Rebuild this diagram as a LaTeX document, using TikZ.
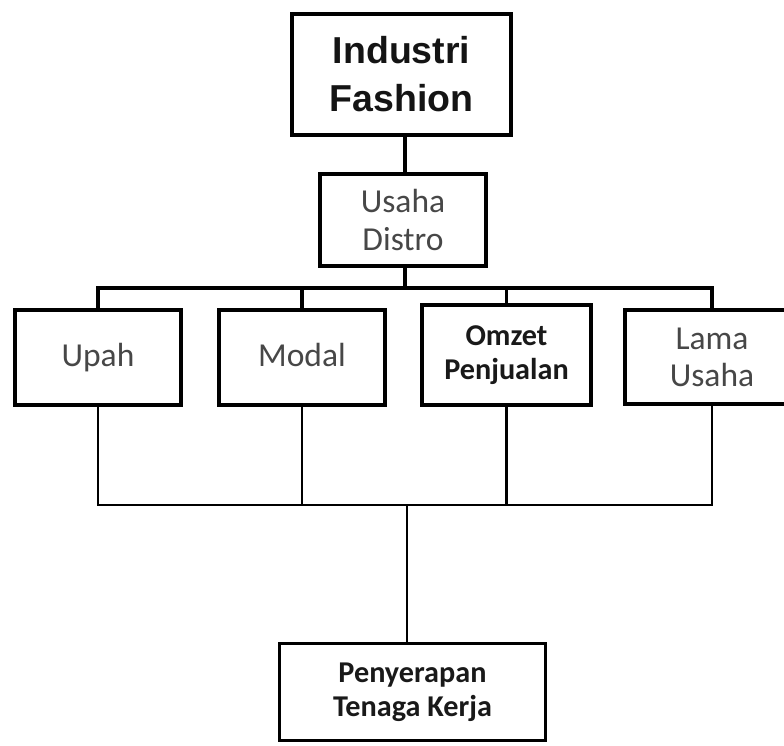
\documentclass[tikz,border=0pt]{standalone}
\usepackage{fontspec}
\setmainfont{Carlito}
\newfontfamily\headfont{Liberation Sans}
\tikzset{
  % One pixel of the reference picture.
  globals/px/.initial=0.03cm,
%
  % Size of a box, given in pixels.
  box size/.style 2 args={
    minimum width={#1*\pgfkeysvalueof{/tikz/globals/px}},
    minimum height={#2*\pgfkeysvalueof{/tikz/globals/px}}},
%
  % For all boxes.
  box/.style={
    draw,
    line width=3.4pt,
    inner sep=0pt,
    align=center,
    text=black!72,
    font={\fontsize{28.6pt}{32pt}\selectfont}},
%
  % For boxes with one line of text: same baseline with or without descenders.
  single/.style={
    text height=16pt,
    text depth=0pt},
%
  % For the top box.
  head box/.style={
    box,
    line width=3.8pt,
    text=black!92,
    font={\headfont\bfseries\fontsize{32pt}{41pt}\selectfont}},
%
  % For boxes with bold text.
  bold box/.style={
    box,
    text=black!90,
    font={\bfseries\fontsize{25.8pt}{29pt}\selectfont}},
%
  % For connectors above the boxes.
  link/.style={
    line width=3.2pt,
    line cap=rect},
%
  % For connectors below the boxes.
  thin link/.style={
    line width=2.1pt,
    line cap=rect}
}

\begin{document}
\begin{tikzpicture}[x=0.03cm, y=-0.03cm]
  \useasboundingbox (0,0) rectangle (784,745);
  \clip (0,0) rectangle (784,745);

  \node[head box, box size={219}{121}] (fashion) at (401.5,74.5) {Industri\\Fashion};
  \node[box, box size={166}{92}] (distro) at (403,220) {Usaha\\Distro};

  \node[box, single, box size={166}{95}] (upah) at (98,357.5) {Upah};
  \node[box, single, box size={166}{95}] (modal) at (302,357.5) {Modal};
  \node[bold box, box size={169}{100}] (omzet) at (506.5,355) {Omzet\\Penjualan};
  \node[box, box size={174}{94}, text depth=-7pt] (lama) at (712,357) {Lama\\Usaha};

  \node[bold box, line width=2.6pt, box size={266}{97}] (tenaga) at (412.5,692)
    {Penyerapan\\Tenaga Kerja};

  \coordinate (bus) at (405,288);
  \coordinate (join) at (407,505);

  % Upper tree.
  \draw[link] (fashion.south -| bus) -- (distro.north -| bus);
  \draw[link] (distro.south -| bus) -- (bus);
  \draw[link] (upah.north |- bus) -- (lama.north |- bus);
  \foreach \boxname in {upah, modal, omzet, lama}
    \draw[link] (\boxname.north) -- (\boxname.north |- bus);

  % Lower tree.
  \draw[thin link] (upah.south |- join) -- (lama.south |- join);
  \foreach \boxname in {upah, modal, omzet, lama}
    \draw[thin link] (\boxname.south) -- (\boxname.south |- join);
  \draw[thin link] (join) -- (join |- tenaga.north);
\end{tikzpicture}
\end{document}
